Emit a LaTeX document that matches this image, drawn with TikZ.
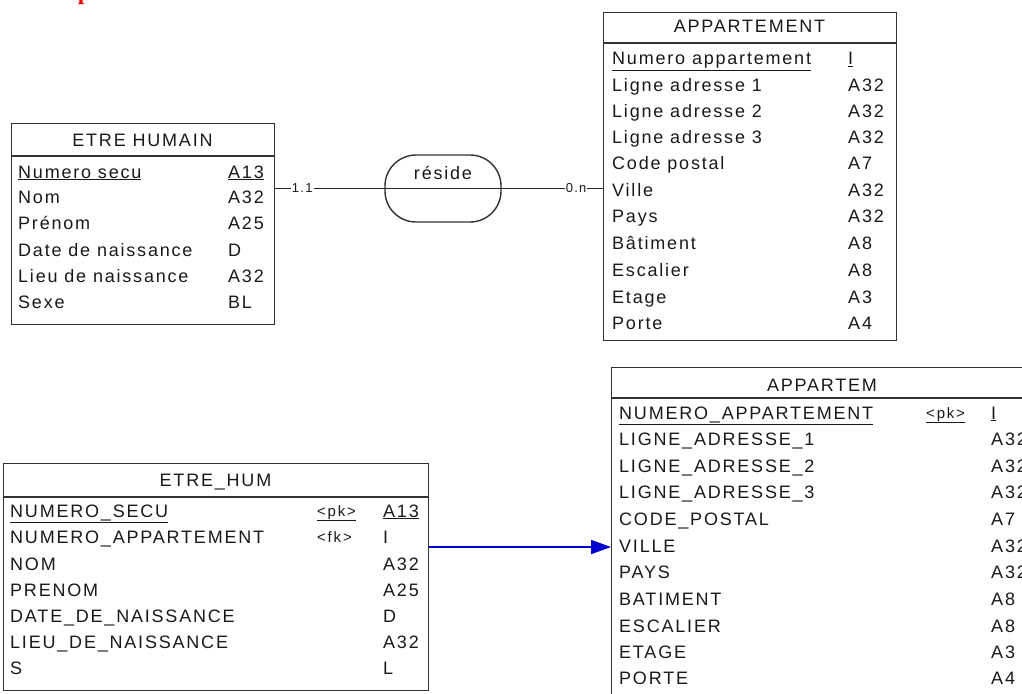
\documentclass[tikz,border=0pt]{standalone}
\usepackage{fontspec}
\setmainfont{Liberation Sans}[LetterSpace=10]
\newfontfamily\keyfont{Liberation Sans}[LetterSpace=12]
\newfontfamily\redfont{Liberation Serif}
\usetikzlibrary{arrows.meta}
\tikzset{
  tbl/.style={draw=black!80, line width=1.4pt, inner sep=0pt, anchor=north west},
  sepline/.style={draw=black!80, line width=1.4pt},
  ttl/.style={font=\fontsize{18}{18}\selectfont, text=black!90, inner sep=0pt, anchor=base},
  fld/.style={font=\fontsize{18}{18}\selectfont, text=black!90, inner sep=0pt, anchor=base west},
  keyf/.style={font=\keyfont\fontsize{15}{15}\selectfont, text=black!90, inner sep=0pt, anchor=base west},
  card/.style={font=\fontsize{13}{13}\selectfont, text=black!90, fill=white, inner sep=1pt},
  relshape/.style={draw=black!80, line width=1.4pt, rounded corners=31pt, minimum width=116pt, minimum height=67pt, inner sep=0pt},
  assoc/.style={draw=black!85, line width=1.2pt},
  fkconn/.style={draw=blue!80!black, line width=1.8pt, -{Triangle[length=20pt,width=14pt]}},
}
\begin{document}
\begin{tikzpicture}[x=1pt,y=-1pt]
\useasboundingbox (0,0) rectangle (1022,693);
\clip (0,0) rectangle (1022,693);
% red heading (mostly cut off)
\node[font=\redfont\bfseries\fontsize{24}{24}\selectfont, text=red, anchor=base west, inner sep=0pt] (ex) at (19,0) {Exemple :};

% ETRE HUMAIN
\node[tbl, minimum width=263pt, minimum height=201pt] (eh) at (11,123) {};
\draw[sepline] (11,156) -- (274,156);
\node[ttl] (ehT) at (142.5,146) {ETRE HUMAIN};
\node[fld] (eh1) at (18,178) {\underline{Numero secu}};
\node[fld] (eh1t) at (228,178) {\underline{A13}};
\node[fld] (eh2) at (18,203) {Nom};
\node[fld] (eh2t) at (228,203) {A32};
\node[fld] (eh3) at (18,229) {Prénom};
\node[fld] (eh3t) at (228,229) {A25};
\node[fld] (eh4) at (18,256) {Date de naissance};
\node[fld] (eh4t) at (228,256) {D};
\node[fld] (eh5) at (18,282) {Lieu de naissance};
\node[fld] (eh5t) at (228,282) {A32};
\node[fld] (eh6) at (18,308) {Sexe};
\node[fld] (eh6t) at (228,308) {BL};

% APPARTEMENT
\node[tbl, minimum width=293pt, minimum height=328pt] (ap) at (603,12) {};
\draw[sepline] (603,43) -- (896,43);
\node[ttl] (apT) at (749.5,33) {APPARTEMENT};
\node[fld] (ap1) at (612,65) {\underline{Numero appartement}};
\node[fld] (ap1t) at (848,65) {\underline{I}};
\node[fld] (ap2) at (612,91) {Ligne adresse 1};
\node[fld] (ap2t) at (848,91) {A32};
\node[fld] (ap3) at (612,117) {Ligne adresse 2};
\node[fld] (ap3t) at (848,117) {A32};
\node[fld] (ap4) at (612,143) {Ligne adresse 3};
\node[fld] (ap4t) at (848,143) {A32};
\node[fld] (ap5) at (612,169) {Code postal};
\node[fld] (ap5t) at (848,169) {A7};
\node[fld] (ap6) at (612,196) {Ville};
\node[fld] (ap6t) at (848,196) {A32};
\node[fld] (ap7) at (612,222) {Pays};
\node[fld] (ap7t) at (848,222) {A32};
\node[fld] (ap8) at (612,249) {Bâtiment};
\node[fld] (ap8t) at (848,249) {A8};
\node[fld] (ap9) at (612,276) {Escalier};
\node[fld] (ap9t) at (848,276) {A8};
\node[fld] (ap10) at (612,303) {Etage};
\node[fld] (ap10t) at (848,303) {A3};
\node[fld] (ap11) at (612,329) {Porte};
\node[fld] (ap11t) at (848,329) {A4};

% association
\node[relshape] (rel) at (443,188.5) {};
\node[ttl] (relT) at (443,179) {réside};
\draw[assoc] (eh.east |- rel.center) -- node[card, pos=0.082] (c1) {1.1} node[card, pos=0.918] (c2) {0.n} (ap.west |- rel.center);

% ETRE_HUM
\node[tbl, minimum width=425pt, minimum height=227pt] (ehp) at (3,463) {};
\draw[sepline] (3,497) -- (428,497);
\node[ttl] (ehpT) at (215.5,486) {ETRE\_HUM};
\node[fld] (p1) at (10,517) {\underline{NUMERO\_SECU}};
\node[keyf] (p1k) at (317,516) {\underline{<pk>}};
\node[fld] (p1t) at (383,517) {\underline{A13}};
\node[fld] (p2) at (10,543) {NUMERO\_APPARTEMENT};
\node[keyf] (p2k) at (317,542) {<fk>};
\node[fld] (p2t) at (383,543) {I};
\node[fld] (p3) at (10,570) {NOM};
\node[fld] (p3t) at (383,570) {A32};
\node[fld] (p4) at (10,596) {PRENOM};
\node[fld] (p4t) at (383,596) {A25};
\node[fld] (p5) at (10,622) {DATE\_DE\_NAISSANCE};
\node[fld] (p5t) at (383,622) {D};
\node[fld] (p6) at (10,648) {LIEU\_DE\_NAISSANCE};
\node[fld] (p6t) at (383,648) {A32};
\node[fld] (p7) at (10,674) {S};
\node[fld] (p7t) at (383,674) {L};

% APPARTEM
\node[tbl, minimum width=422pt, minimum height=340pt] (apm) at (611,367) {};
\draw[sepline] (611,398) -- (1033,398);
\node[ttl] (apmT) at (822,391) {APPARTEM};
\node[fld] (q1) at (619,419) {\underline{NUMERO\_APPARTEMENT}};
\node[keyf] (q1k) at (926,418) {\underline{<pk>}};
\node[fld] (q1t) at (991,419) {\underline{I}};
\node[fld] (q2) at (619,445) {LIGNE\_ADRESSE\_1};
\node[fld] (q2t) at (991,445) {A32};
\node[fld] (q3) at (619,472) {LIGNE\_ADRESSE\_2};
\node[fld] (q3t) at (991,472) {A32};
\node[fld] (q4) at (619,498) {LIGNE\_ADRESSE\_3};
\node[fld] (q4t) at (991,498) {A32};
\node[fld] (q5) at (619,525) {CODE\_POSTAL};
\node[fld] (q5t) at (991,525) {A7};
\node[fld] (q6) at (619,552) {VILLE};
\node[fld] (q6t) at (991,552) {A32};
\node[fld] (q7) at (619,578) {PAYS};
\node[fld] (q7t) at (991,578) {A32};
\node[fld] (q8) at (619,605) {BATIMENT};
\node[fld] (q8t) at (991,605) {A8};
\node[fld] (q9) at (619,632) {ESCALIER};
\node[fld] (q9t) at (991,632) {A8};
\node[fld] (q10) at (619,658) {ETAGE};
\node[fld] (q10t) at (991,658) {A3};
\node[fld] (q11) at (619,684) {PORTE};
\node[fld] (q11t) at (991,684) {A4};

% reference connector
\coordinate (fky) at (0,547);
\draw[fkconn] (ehp.east |- fky) -- (apm.west |- fky);
\end{tikzpicture}
\end{document}
